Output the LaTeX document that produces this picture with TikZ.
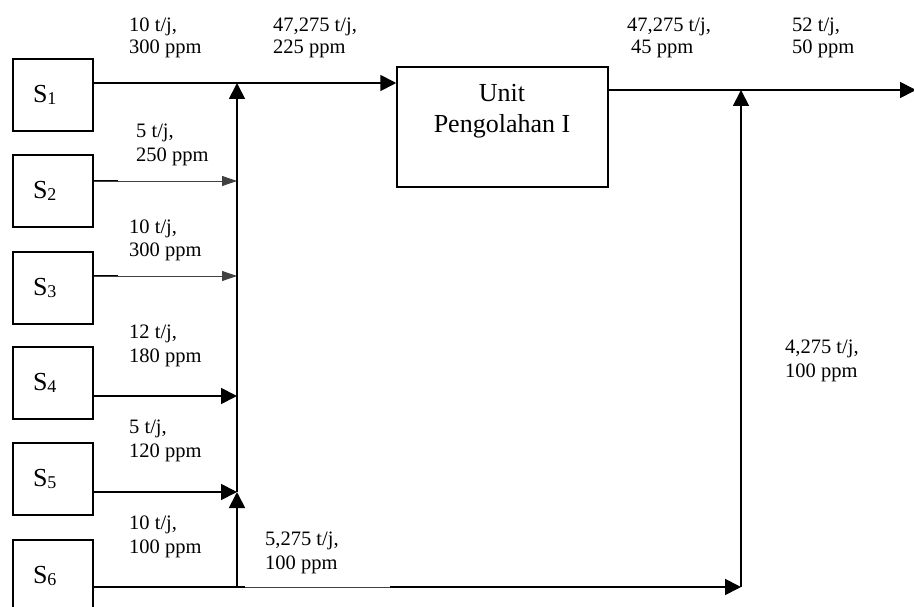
\documentclass[tikz,border=0pt]{standalone}
\usepackage{fontspec}
\setmainfont{Liberation Serif}
\usetikzlibrary{arrows.meta}
\newcommand\subidx[1]{\raisebox{-2pt}{\fontsize{18}{18}\selectfont #1}}
\newcommand\srctext[1]{\makebox[40pt][l]{S\subidx{#1}}}
\begin{document}
\begin{tikzpicture}[x=1pt,y=-1pt,
  lbl/.style={anchor=base west, align=left, inner sep=0pt, font=\fontsize{20.5}{24}\selectfont},
  lbltop/.style={lbl, font=\fontsize{20.5}{22}\selectfont},
  src/.style={draw, line width=1.5pt, minimum width=80pt, minimum height=72pt, inner sep=0pt, font=\fontsize{26}{26}\selectfont},
  unitbox/.style={draw, line width=1.5pt, minimum width=211pt, minimum height=120pt, inner sep=0pt},
  flow/.style={line width=1.8pt},
  thinflow/.style={line width=0.8pt, black!75},
  tip/.style={-{Triangle[length=16pt,width=16pt]}},
  smalltip/.style={-{Triangle[length=15pt,width=10pt]}}
]
\useasboundingbox (0,0) rectangle (914,607);

% source boxes
\node[src] (s1) at (53,95)  {\srctext{1}};
\node[src] (s2) at (53,191) {\srctext{2}};
\node[src] (s3) at (53,288) {\srctext{3}};
\node[src] (s4) at (53,383) {\srctext{4}};
\node[src] (s5) at (53,479) {\srctext{5}};
\node[src] (s6) at (53,576) {\srctext{6}};

% treatment unit
\node[unitbox] (unit) at (502.5,127) {};
\node[align=center, anchor=base, inner sep=0pt, font=\fontsize{26}{31}\selectfont] (unittxt) at (502,133) {Unit\\Pengolahan I};

% junction coordinates
\coordinate (j1) at (237,83);
\coordinate (j2) at (237,181);
\coordinate (j3) at (237,276);
\coordinate (j4) at (237,396);
\coordinate (j5) at (237,492);
\coordinate (j6) at (237,587);
\coordinate (m1) at (245,587);
\coordinate (m2) at (390,587);
\coordinate (j7) at (741,587);
\coordinate (j8) at (741,90);
\coordinate (out) at (916,90);

% connectors
\draw[flow,tip] (s1.east |- j1) -- (unit.west |- j1);
\draw[flow] (s2.east |- j2) -- ++(24,0);
\draw[thinflow,smalltip] (s2.east |- j2) -- (j2);
\draw[flow] (s3.east |- j3) -- ++(24,0);
\draw[thinflow,smalltip] (s3.east |- j3) -- (j3);
\draw[flow,tip] (s4.east |- j4) -- (j4);
\draw[flow,tip] (s5.east |- j5) -- (j5);
\draw[flow] (s6.east |- j6) -- (m1);
\draw[flow,tip] (j6) -- (j5);
\draw[flow,tip] (j5) -- (j1);
\draw[thinflow] (m1) -- (m2);
\draw[flow,tip] (m2) -- (j7);
\draw[flow,tip] (j7) -- (j8);
\draw[flow,tip] (unit.east |- j8) -- (out);

% labels (anchored at the baseline of the second line)
\node[lbltop] (l1) at (129,54) {10 t/j,\\300 ppm};
\node[lbltop] (l2) at (273,54) {47,275 t/j,\\225 ppm};
\node[lbltop] (l3) at (627,54) {47,275 t/j,\\\hspace*{4pt}45 ppm};
\node[lbltop] (l4) at (792,54) {52 t/j,\\50 ppm};
\node[lbl] (l5) at (136,162) {5 t/j,\\250 ppm};
\node[lbl] (l6) at (129,257) {10 t/j,\\300 ppm};
\node[lbl] (l7) at (129,362) {12 t/j,\\180 ppm};
\node[lbl] (l8) at (129,457) {5 t/j,\\120 ppm};
\node[lbl] (l9) at (129,553) {10 t/j,\\100 ppm};
\node[lbl] (l10) at (265,569) {5,275 t/j,\\100 ppm};
\node[lbl] (l11) at (785,377) {4,275 t/j,\\100 ppm};
\end{tikzpicture}
\end{document}
